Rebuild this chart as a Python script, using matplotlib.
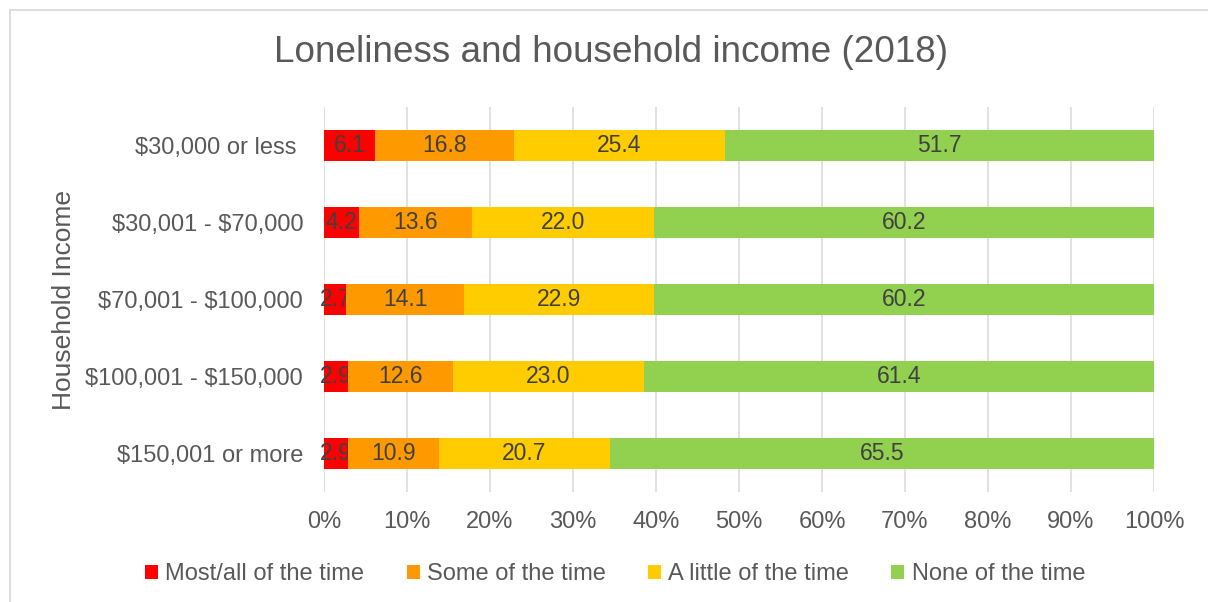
import numpy as np
import matplotlib
matplotlib.use('Agg')
import matplotlib.pyplot as plt
from matplotlib.lines import Line2D
from matplotlib.ticker import PercentFormatter

# data
incomes = ['$30,000 or less ', '$30,001 - $70,000', '$70,001 - $100,000',
           '$100,001 - $150,000', '$150,001 or more']
series_names = ['Most/all of the time', 'Some of the time',
                'A little of the time', 'None of the time']
most_all = [6.1, 4.2, 2.7, 2.9, 2.9]
some = [16.8, 13.6, 14.1, 12.6, 10.9]
a_little = [25.4, 22.0, 22.9, 23.0, 20.7]
none = [51.7, 60.2, 60.2, 61.4, 65.5]
colors = ['#FF0000', '#FF9900', '#FFCC00', '#92D050']

plt.rcParams['font.family'] = ['Liberation Sans', 'DejaVu Sans']
grey = '#595959'

W, H = 1208, 602
fig = plt.figure(figsize=(W / 100, H / 100), dpi=100)
ax = fig.add_axes([324 / W, 1 - 492 / H, 830 / W, 385 / H])

data = np.array([most_all, some, a_little, none])
totals = data.sum(axis=0)
shares = data / totals * 100  # 100% stacked like excel
y = np.arange(len(incomes))
left = np.zeros(len(incomes))
for vals, raw, name, c in zip(shares, data, series_names, colors):
    bars = ax.barh(y, vals, left=left, height=0.40, color=c, label=name, zorder=3)
    ax.bar_label(bars, labels=[f'{v:.1f}' for v in raw], label_type='center',
                 fontsize=16.5, color='#404040')
    left += vals

ax.set_xlim(0, 100)
ax.set_ylim(len(incomes) - 0.5, -0.5)
ax.set_xticks(np.arange(0, 101, 10))
ax.xaxis.set_major_formatter(PercentFormatter(decimals=0))
ax.set_yticks(y)
ax.set_yticklabels([s.replace('$', r'\$') for s in incomes])
ax.tick_params(axis='both', length=0, labelsize=17, colors=grey)
ax.tick_params(axis='y', pad=15)
ax.tick_params(axis='x', pad=14)
ax.grid(axis='x', color='#d9d9d9', lw=1.1, zorder=0)
for s in ax.spines.values():
    s.set_visible(False)

ax.set_ylabel('Household Income', fontsize=19, color=grey)
ax.yaxis.set_label_coords((76 - 324) / 830, 0.5)

fig.text(611 / W, 1 - 52 / H, 'Loneliness and household income (2018)',
         ha='center', va='center', fontsize=26.6, color=grey)

fig.legend(loc='center', bbox_to_anchor=(615 / W, 1 - 574 / H), ncol=4,
           frameon=False, fontsize=17, handlelength=0.55, handleheight=0.55,
           handletextpad=0.3, columnspacing=1.8, labelcolor=grey)

# chart area border (top and left visible)
fig.add_artist(Line2D([10 / W, 10 / W], [0, 1 - 10 / H], color='#d9d9d9', lw=1.2,
                      transform=fig.transFigure))
fig.add_artist(Line2D([10 / W, 1], [1 - 10 / H, 1 - 10 / H], color='#d9d9d9', lw=1.2,
                      transform=fig.transFigure))

fig.savefig('out.png', dpi=100)
